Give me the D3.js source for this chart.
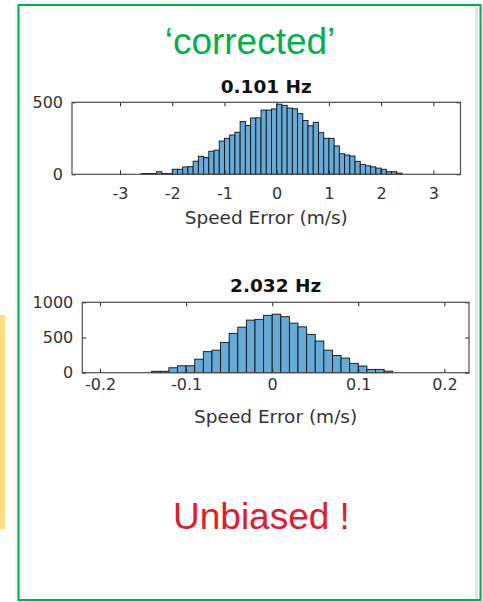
<!DOCTYPE html>
<html>
<head>
<meta charset="utf-8">
<script src="https://cdn.jsdelivr.net/npm/d3@7"></script>
<style>
  body { margin: 0; background: #fff; }
  svg { display: block; }
  .tick text { font-family: "DejaVu Sans", sans-serif; fill: #333; }
</style>
</head>
<body>
<div id="chart"></div>
<script>
// histogram counts (bin width 0.1 m/s, first bin starts at -2.6)
const lowBinStart = -2.6;
const lowBinWidth = 0.1;
const lowCounts = [5, 5, 5, 18, 5, 5, 35, 35, 51, 53,
                   91, 125, 116, 160, 168, 231, 250, 273, 292, 366,
                   339, 391, 392, 446, 446, 454, 487, 479, 460, 455,
                   421, 374, 337, 361, 289, 250, 250, 197, 143, 134,
                   127, 90, 69, 59, 52, 43, 35, 18, 18, 8];
const lowXTicks = [-3, -2, -1, 0, 1, 2, 3];
const lowYTicks = [0, 500];

// bin width 0.01 m/s, first bin starts at -0.14
const highBinStart = -0.14;
const highBinWidth = 0.01;
const highCounts = [20, 20, 70, 98, 98, 192, 299, 320, 431, 559,
                    647, 747, 758, 815, 832, 796, 704, 651, 545, 450,
                    320, 244, 208, 133, 95, 47, 47, 22];
const highXTicks = [-0.2, -0.1, 0, 0.1, 0.2];
const highYTicks = [0, 500, 1000];

const W = 483, H = 602;

const svg = d3.select("#chart").append("svg")
    .attr("width", W)
    .attr("height", H);

const defs = svg.append("defs");
const shadow = defs.append("filter").attr("id", "shadow")
    .attr("x", "-5%").attr("y", "-5%").attr("width", "110%").attr("height", "110%");
shadow.append("feDropShadow")
    .attr("dx", 0).attr("dy", 0)
    .attr("stdDeviation", 2.5)
    .attr("flood-color", "#000")
    .attr("flood-opacity", 0.25);

// yellow strip peeking in on the left
svg.append("rect")
    .attr("x", 0).attr("y", 315)
    .attr("width", 5).attr("height", 214)
    .attr("fill", "#ffdd80");

// green framed panel
svg.append("rect")
    .attr("x", 18.5).attr("y", 5)
    .attr("width", 462).attr("height", 595)
    .attr("fill", "#fff")
    .attr("filter", "url(#shadow)");
svg.append("rect")
    .attr("x", 475).attr("y", 6)
    .attr("width", 3).attr("height", 593)
    .attr("fill", "#e6e6e6");
svg.append("rect")
    .attr("x", 18.5).attr("y", 5)
    .attr("width", 462).attr("height", 595)
    .attr("fill", "none")
    .attr("stroke", "#00b050")
    .attr("stroke-width", 2);

svg.append("text")
    .attr("x", 250).attr("y", 54)
    .attr("text-anchor", "middle")
    .attr("font-family", "'Liberation Sans', Arial, sans-serif")
    .attr("font-size", 37)
    .attr("fill", "#00b050")
    .text("\u2018corrected\u2019");

svg.append("text")
    .attr("x", 173).attr("y", 529)
    .attr("font-family", "'Liberation Sans', Arial, sans-serif")
    .attr("font-size", 37)
    .attr("fill", "#e8192c")
    .text("Unbiased !");

// plain hyphen minus and no thousands separator, like MATLAB
const fmt = d => String(d);

function drawHist(opt) {
    const x = d3.scaleLinear().domain(opt.xDomain).range([opt.left, opt.right]);
    const y = d3.scaleLinear().domain(opt.yDomain).range([opt.bottom, opt.top]);

    const g = svg.append("g");

    const bins = opt.counts.map((c, i) => ({
        x0: opt.binStart + i * opt.binWidth,
        x1: opt.binStart + (i + 1) * opt.binWidth,
        count: c
    }));

    g.selectAll("rect.bar")
        .data(bins)
        .join("rect")
        .attr("class", "bar")
        .attr("x", d => x(d.x0))
        .attr("width", d => x(d.x1) - x(d.x0))
        .attr("y", d => y(d.count))
        .attr("height", d => y(0) - y(d.count))
        .attr("fill", "#66aad7")
        .attr("stroke", "#111")
        .attr("stroke-width", 0.9);

    // axes with inward ticks, MATLAB style
    const gx = g.append("g")
        .attr("transform", `translate(0,${opt.bottom})`)
        .call(d3.axisBottom(x).tickValues(opt.xTicks).tickFormat(fmt)
            .tickSizeInner(-4).tickSizeOuter(0).tickPadding(opt.xPad));
    gx.selectAll(".tick text").attr("font-size", 16);

    g.append("g")
        .attr("transform", `translate(0,${opt.top})`)
        .call(d3.axisTop(x).tickValues(opt.xTicks).tickFormat("").tickSizeInner(-4).tickSizeOuter(0));

    const gy = g.append("g")
        .attr("transform", `translate(${opt.left},0)`)
        .call(d3.axisLeft(y).tickValues(opt.yTicks).tickFormat(fmt)
            .tickSizeInner(-4).tickSizeOuter(0).tickPadding(9));
    gy.selectAll(".tick text").attr("font-size", 16);

    g.append("g")
        .attr("transform", `translate(${opt.right},0)`)
        .call(d3.axisRight(y).tickValues(opt.yTicks).tickFormat("").tickSizeInner(-4).tickSizeOuter(0));

    g.selectAll(".domain").remove();
    g.selectAll(".tick line").attr("stroke", "#262626");

    g.append("rect")
        .attr("x", opt.left).attr("y", opt.top)
        .attr("width", opt.right - opt.left)
        .attr("height", opt.bottom - opt.top)
        .attr("fill", "none")
        .attr("stroke", "#4d4d4d")
        .attr("stroke-width", 1.2);

    g.append("text")
        .attr("x", (opt.left + opt.right) / 2)
        .attr("y", opt.titleY)
        .attr("text-anchor", "middle")
        .attr("font-family", "'DejaVu Sans', sans-serif")
        .attr("font-weight", "bold")
        .attr("font-size", 18.5)
        .attr("fill", "#111")
        .text(opt.title);

    g.append("text")
        .attr("x", (opt.left + opt.right) / 2)
        .attr("y", opt.labelY)
        .attr("text-anchor", "middle")
        .attr("font-family", "'DejaVu Sans', sans-serif")
        .attr("font-size", 18.5)
        .attr("fill", "#333")
        .text("Speed Error (m/s)");
}

drawHist({
    counts: lowCounts, binStart: lowBinStart, binWidth: lowBinWidth,
    xDomain: [-3.92, 3.52], yDomain: [0, 500],
    xTicks: lowXTicks, yTicks: lowYTicks,
    left: 72, right: 460.5, top: 102.3, bottom: 174.3,
    xPad: 13.5, title: "0.101 Hz", titleY: 92.5, labelY: 224
});

drawHist({
    counts: highCounts, binStart: highBinStart, binWidth: highBinWidth,
    xDomain: [-0.2206, 0.2286], yDomain: [0, 1000],
    xTicks: highXTicks, yTicks: highYTicks,
    left: 82.3, right: 469, top: 302.3, bottom: 372.7,
    xPad: 5.5, title: "2.032 Hz", titleY: 291.5, labelY: 423
});
</script>
</body>
</html>
